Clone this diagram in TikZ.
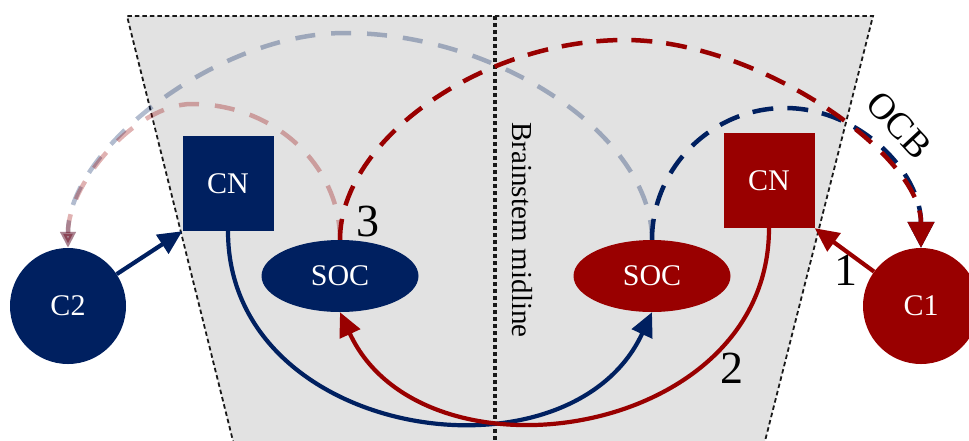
\documentclass[tikz,border=0pt]{standalone}
\usepackage{fontspec}
\setmainfont{Liberation Serif}
\usetikzlibrary{arrows.meta,shapes.geometric}
\definecolor{navy}{RGB}{0,32,96}
\definecolor{dred}{RGB}{153,0,0}
\definecolor{bggray}{RGB}{226,226,226}
\begin{document}
\begin{tikzpicture}[x=1pt,y=1pt,
  nodetext/.style={text=white,font=\fontsize{30}{35}\selectfont},
  cnbox/.style={rectangle,fill=#1,minimum width=91pt,minimum height=95pt,inner sep=0pt,nodetext},
  socbox/.style={ellipse,fill=#1,minimum width=157pt,minimum height=72pt,inner sep=0pt,nodetext},
  cbox/.style={circle,fill=#1,minimum size=116pt,inner sep=0pt,nodetext},
  solidarrow/.style={draw=#1,line width=4.2pt,-{Triangle[length=24pt,width=22pt,fill=#1]}},
  darkarc/.style={draw=#1,line width=4.5pt,dash pattern=on 21pt off 14pt,-{Triangle[length=26pt,width=26pt,fill=#1]}},
  fadearc/.style={draw=#1,opacity=0.3,line width=4.5pt,dash pattern=on 20pt off 16pt,-{Triangle[length=16pt,width=15pt,fill=#1]}},
  numlabel/.style={font=\fontsize{46}{50}\selectfont,text=black,inner sep=0pt},
  sidelabel/.style={font=\fontsize{29}{34}\selectfont,text=black,inner sep=0pt},
  ocblabel/.style={font=\fontsize{37}{40}\selectfont,text=black,inner sep=0pt}
]
\useasboundingbox (0,0) rectangle (969,-440);
\clip (0,0) rectangle (969,-440);
% brainstem region
\fill[bggray] (127,-16) -- (873,-16) -- (764,-445) -- (234,-445) -- cycle;
\draw[black!90,line width=1.8pt,dash pattern=on 4.5pt off 3pt] (234,-445) -- (127,-16) -- (873,-16) -- (764,-445);
\draw[black!90,line width=3.6pt,dash pattern=on 3.6pt off 3.4pt] (495,-16) -- (495,-445);
\node[sidelabel,rotate=-90] (mid) at (522,-230) {Brainstem midline};

% nodes
\node[cbox=navy] (c2) at (68,-306) {C2};
\node[cbox=dred] (c1) at (921,-306) {C1};
\node[cnbox=navy] (cnL) at (228,-183.5) {CN};
\node[cnbox=dred] (cnR) at (769,-180.5) {CN};
\node[socbox=navy] (socL) at (340,-276) {SOC};
\node[socbox=dred] (socR) at (652,-276) {SOC};

\coordinate (pkFB) at (345,-33);
\coordinate (pkFR) at (192,-104);
\coordinate (pkN) at (785,-108);
\coordinate (pkR) at (625,-40);

% faded olivocochlear arcs
\draw[fadearc=navy] (socR.north) .. controls +(0,103.5) and +(153.5,0) .. (pkFB)
  .. controls +(-127,0) and +(0,99) .. (c2.north);
\draw[fadearc=dred] (socL.north) .. controls +(0,74.6) and +(82,0) .. (pkFR)
  .. controls +(-56,0) and +(0,65) .. (c2.north);
% dark olivocochlear arcs
\draw[darkarc=navy] (socR.north) .. controls +(0,72) and +(-73,0) .. (pkN)
  .. controls +(74,0) and +(0,76) .. (c1.north);
\draw[darkarc=dred] (socL.north) .. controls +(0,100) and +(-142.5,0) .. (pkR)
  .. controls +(133.2,0) and +(0,93.6) .. (c1.north);

% ascending pathways
\draw[solidarrow=navy] (c2) -- (cnL.south west);
\draw[solidarrow=dred] (c1) -- (cnR.south east);
\draw[solidarrow=navy] (cnL.south) .. controls +(0,-209) and +(-82,-178) .. (socR.south);
\draw[solidarrow=dred] (cnR.south) .. controls +(0,-212) and +(82,-178) .. (socL.south);

% labels
\node[numlabel] (n3) at (368,-221) {3};
\node[numlabel] (n1) at (846,-270) {1};
\node[numlabel] (n2) at (732,-368) {2};
\node[ocblabel,rotate=-47] (ocb) at (899,-125) {OCB};
\end{tikzpicture}
\end{document}
